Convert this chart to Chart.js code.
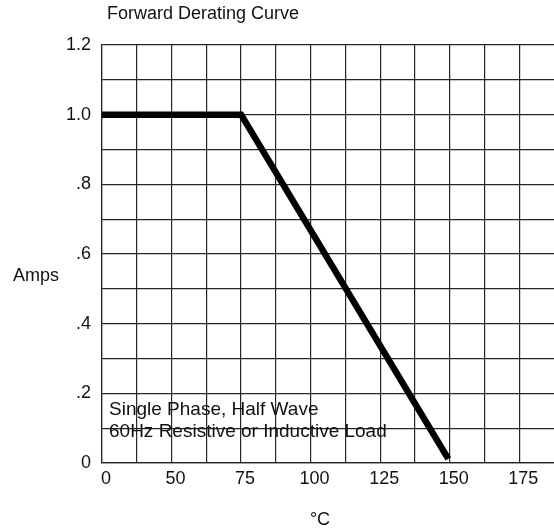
<!DOCTYPE html>
<html>
<head>
<meta charset="utf-8">
<script src="https://cdn.jsdelivr.net/npm/chart.js@4/dist/chart.umd.min.js"></script>
<style>
  html, body { margin: 0; padding: 0; background: #fff; }
  #wrap { width: 554px; height: 531px; }
</style>
</head>
<body>
<div id="wrap"><canvas id="derating" width="554" height="531"></canvas></div>
<script>
// values
const tempC = [25, 75, 149.5];          // left edge of the grid is labelled "0"
const amps = [1.0, 1.0, 0.012];
const xTickValues = [25, 50, 75, 100, 125, 150, 175];
const xTickLabels = ['0', '50', '75', '100', '125', '150', '175'];
const yTickValues = [0, 0.2, 0.4, 0.6, 0.8, 1.0, 1.2];
const yTickLabels = ['0', '.2', '.4', '.6', '.8', '1.0', '1.2'];
const titleText = 'Forward Derating Curve';
const yTitle = 'Amps';
const xTitle = '°C';
const notes = ['Single Phase, Half Wave', '60Hz Resistive or Inductive Load'];

const FONT = '"Liberation Sans", Arial, sans-serif';
const gridColor = '#262626';

function labelFor(values, labels, v) {
  const i = values.findIndex(t => Math.abs(t - v) < 1e-6);
  return i < 0 ? '' : labels[i];
}

// title, axis names and the note inside the plot
const decor = {
  id: 'decor',
  afterDraw(chart) {
    const { ctx, chartArea: a } = chart;
    ctx.save();
    ctx.fillStyle = '#111';
    ctx.textBaseline = 'middle';
    ctx.font = '18px ' + FONT;
    ctx.textAlign = 'left';
    ctx.fillText(titleText, a.left + 5, 14);
    ctx.fillText(yTitle, 13, a.top + 231);
    ctx.textAlign = 'center';
    ctx.fillText(xTitle, a.left + 218, 520);
    ctx.textAlign = 'left';
    ctx.font = '19px ' + FONT;
    notes.forEach((t, i) => ctx.fillText(t, a.left + 7, a.bottom - 53 + i * 22));
    ctx.restore();
  }
};

new Chart(document.getElementById('derating').getContext('2d'), {
  type: 'line',
  data: {
    datasets: [{
      data: tempC.map((x, i) => ({ x, y: amps[i] })),
      borderColor: '#000',
      borderWidth: 6.5,
      pointRadius: 0,
      tension: 0,
      fill: false
    }]
  },
  options: {
    responsive: false,
    animation: false,
    layout: { padding: { top: 45, right: 0, left: 0, bottom: 0 } },
    plugins: { legend: { display: false }, tooltip: { enabled: false } },
    scales: {
      x: {
        type: 'linear',
        min: 25,
        max: 187.5,
        afterBuildTicks: s => {
          const t = [];
          for (let i = 0; i <= 12; i++) t.push({ value: 25 + i * 12.5 });
          s.ticks = t;
        },
        afterFit: s => { s.height = 68; },
        grid: { color: gridColor, lineWidth: 1.2, drawTicks: false },
        border: { color: gridColor, width: 1.2 },
        ticks: {
          autoSkip: false,
          maxRotation: 0,
          padding: 5,
          labelOffset: 4,
          color: '#111',
          font: { family: FONT, size: 18 },
          callback: v => labelFor(xTickValues, xTickLabels, v)
        }
      },
      y: {
        min: 0,
        max: 1.2,
        afterBuildTicks: s => {
          const t = [];
          for (let i = 0; i <= 12; i++) t.push({ value: i / 10 });
          s.ticks = t;
        },
        afterFit: s => { s.width = 102; },
        grid: { color: gridColor, lineWidth: 1.2, drawTicks: false },
        border: { color: gridColor, width: 1.2 },
        ticks: {
          autoSkip: false,
          padding: 11,
          color: '#111',
          font: { family: FONT, size: 18 },
          callback: v => labelFor(yTickValues, yTickLabels, v)
        }
      }
    }
  },
  plugins: [decor]
});
</script>
</body>
</html>
